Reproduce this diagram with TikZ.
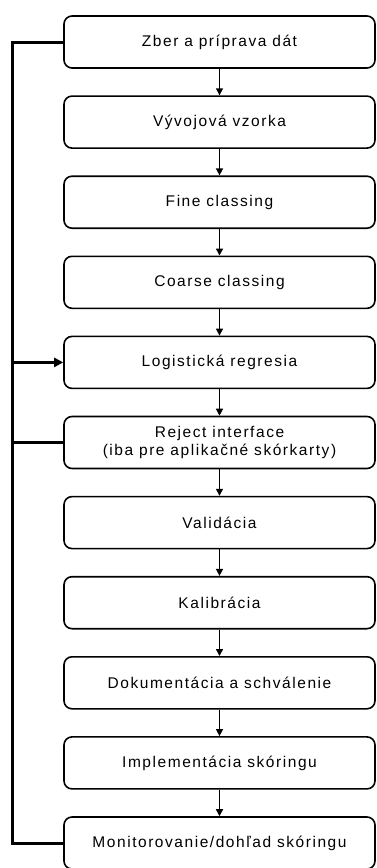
\documentclass[tikz,border=0pt]{standalone}
\usepackage{fontspec}
\setmainfont{Liberation Sans}[LetterSpace=10]
\usepackage{tikz}
\usetikzlibrary{positioning,arrows.meta}

\begin{document}
\begin{tikzpicture}[
  font=\fontsize{15.5}{17.5}\selectfont,
  stepbox/.style={draw, line width=1.6pt, rounded corners=8pt, align=center,
                  minimum width=311pt, minimum height=52pt, inner sep=2pt},
  flow/.style={line width=1.4pt, -{Triangle[width=7pt,length=7pt]}},
  back/.style={line width=3pt},
  >={Triangle[width=9pt,length=9pt]}
]
\useasboundingbox (0,0) rectangle (377pt,-868pt);

% Process column
\node[stepbox] (zber) at (219.5pt,-42pt) {Zber a príprava dát};
\node[stepbox, below=26.5pt of zber]  (vzorka) {Vývojová vzorka};
\node[stepbox, below=26.5pt of vzorka] (fine)   {Fine classing};
\node[stepbox, below=26.5pt of fine]   (coarse) {Coarse classing};
\node[stepbox, below=26.5pt of coarse] (logreg) {Logistická regresia};
\node[stepbox, below=26.5pt of logreg] (reject) {Reject interface\\(iba pre aplikačné skórkarty)};
\node[stepbox, below=26.5pt of reject] (valid)  {Validácia};
\node[stepbox, below=26.5pt of valid]  (kalib)  {Kalibrácia};
\node[stepbox, below=26.5pt of kalib]  (dokum)  {Dokumentácia a schválenie};
\node[stepbox, below=26.5pt of dokum]  (impl)   {Implementácia skóringu};
\node[stepbox, below=26.5pt of impl]   (monit)  {Monitorovanie/dohľad skóringu};

% feedback line on the left
\coordinate[left=51pt of zber.west]  (ltop);
\coordinate[left=51pt of monit.west] (lbot);

% edges
\draw[flow] (zber) -- (vzorka);
\draw[flow] (vzorka) -- (fine);
\draw[flow] (fine) -- (coarse);
\draw[flow] (coarse) -- (logreg);
\draw[flow] (logreg) -- (reject);
\draw[flow] (reject) -- (valid);
\draw[flow] (valid) -- (kalib);
\draw[flow] (kalib) -- (dokum);
\draw[flow] (dokum) -- (impl);
\draw[flow] (impl) -- (monit);

\draw[back] (zber.west) -- (ltop) -- (lbot) -- (monit.west);
\draw[back] (reject.west) -- (reject.west -| ltop);
\draw[back, ->] (logreg.west -| ltop) -- (logreg.west);
\end{tikzpicture}
\end{document}
